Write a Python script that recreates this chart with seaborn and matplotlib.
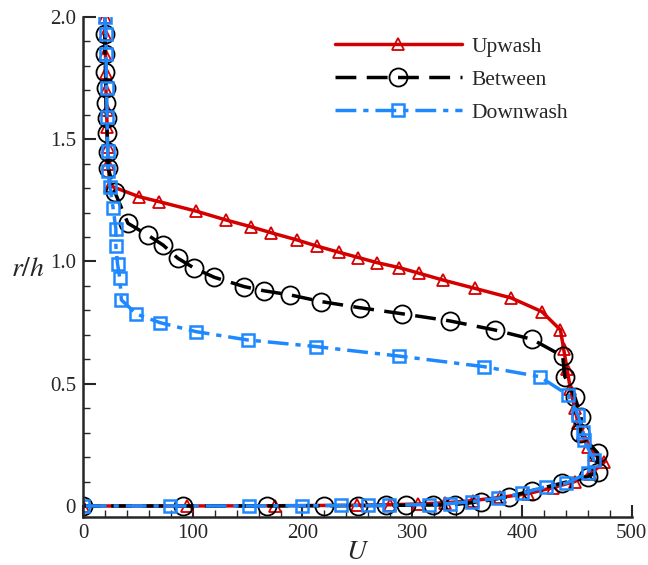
import numpy as np
import pandas as pd
import matplotlib.pyplot as plt
import seaborn as sns
from matplotlib.ticker import MultipleLocator

# data (U, r/h)
up_x = [20, 20, 20.5, 21, 21, 21.5, 22, 22.5, 23, 24.5, 51, 69, 103, 130, 153, 171, 195, 213, 233, 251,
        268, 288, 306, 328, 357, 390, 418, 435, 438, 441, 444, 448, 451, 455, 460, 466, 475, 462, 448, 428,
        405, 380, 355, 330, 305, 280, 250, 175, 95, 0]
up_y = [2.0, 1.93, 1.85, 1.77, 1.70, 1.62, 1.55, 1.47, 1.40, 1.31, 1.265, 1.245, 1.206, 1.170, 1.142, 1.118, 1.088, 1.063, 1.038, 1.016,
        0.995, 0.975, 0.952, 0.924, 0.890, 0.851, 0.795, 0.720, 0.64, 0.56, 0.48, 0.40, 0.34, 0.29, 0.24, 0.21, 0.18, 0.13, 0.10, 0.075,
        0.05, 0.035, 0.022, 0.013, 0.008, 0.005, 0.003, 0.001, 0, 0]

bt_x = [20, 20, 20.5, 21, 21, 21.5, 22, 22.5, 23, 29, 41, 59, 73, 86.5, 101.6, 119.8, 147, 165, 189, 217,
        252, 291, 334, 375, 409, 437, 439, 448, 454, 453, 469, 469, 460, 436, 409, 388, 363, 339, 319, 294,
        276, 251, 220, 168, 91, 0]
bt_y = [1.93, 1.85, 1.775, 1.71, 1.648, 1.587, 1.525, 1.448, 1.382, 1.284, 1.156, 1.108, 1.067, 1.013, 0.972, 0.935, 0.897, 0.880, 0.863, 0.836,
        0.811, 0.786, 0.757, 0.72, 0.682, 0.613, 0.529, 0.447, 0.365, 0.297, 0.216, 0.14, 0.12, 0.093, 0.063, 0.038, 0.018, 0.006, 0.004, 0.003,
        0.002, 0.001, 0.001, 0, 0, 0]

dn_x = [20, 21, 21, 21.5, 22, 22.5, 23, 24.5, 27.5, 30, 30, 31.5, 33.6, 35, 48.7, 70, 103, 150, 212, 288,
        365, 416, 442, 451, 455.5, 456.4, 465.5, 460, 440, 422, 400, 378, 354, 334.5, 315, 279, 260, 235, 200, 151.5,
        79, 0]
dn_y = [2.0, 1.93, 1.85, 1.71, 1.59, 1.45, 1.37, 1.306, 1.218, 1.132, 1.063, 0.99, 0.931, 0.843, 0.785, 0.75, 0.713, 0.679, 0.652, 0.613,
        0.57, 0.529, 0.454, 0.372, 0.304, 0.27, 0.188, 0.134, 0.093, 0.079, 0.052, 0.031, 0.018, 0.01, 0.006, 0.003, 0.002, 0.002, 0.001, 0,
        0, 0]

sns.set_style('ticks')
plt.rcParams['font.family'] = ['Liberation Serif', 'DejaVu Serif']
plt.rcParams['mathtext.fontset'] = 'stix'

fig = plt.figure(figsize=(6.48, 5.65), dpi=100)
ax = fig.add_axes([0.128, 0.085, 0.847, 0.885])

sns.lineplot(x=up_x, y=up_y, sort=False, estimator=None, ax=ax, color='#d40000', lw=2.5,
             marker='^', markersize=9, markerfacecolor='none', markeredgecolor='#d40000',
             markeredgewidth=1.3, label='Upwash')
sns.lineplot(x=bt_x, y=bt_y, sort=False, estimator=None, ax=ax, color='black', lw=2.5,
             linestyle=(0, (6, 3)), marker='o', markersize=13, markerfacecolor='none',
             markeredgecolor='black', markeredgewidth=1.3, label='Between')
sns.lineplot(x=dn_x, y=dn_y, sort=False, estimator=None, ax=ax, color='#1e88ff', lw=2.5,
             linestyle=(0, (6, 2, 1.5, 2)), marker='s', markersize=8.5, markerfacecolor='none',
             markeredgecolor='#1e88ff', markeredgewidth=1.8, label='Downwash')

ax.set_xlim(0, 500)
ax.set_ylim(-0.045, 2.0)
ax.xaxis.set_major_locator(MultipleLocator(100))
ax.xaxis.set_minor_locator(MultipleLocator(20))
ax.yaxis.set_major_locator(MultipleLocator(0.5))
ax.yaxis.set_minor_locator(MultipleLocator(0.1))
ax.set_yticks([0, 0.5, 1.0, 1.5, 2.0])
ax.set_yticklabels(['0', '0.5', '1.0', '1.5', '2.0'])
ax.tick_params(which='major', direction='in', length=9, width=1.5, labelsize=15, pad=5)
ax.tick_params(which='minor', direction='in', length=5, width=1)
sns.despine(ax=ax)
for s in ['left', 'bottom']:
    ax.spines[s].set_linewidth(1.8)

ax.set_xlabel('$U$', fontsize=20, labelpad=-2)
ax.set_ylabel('$r/h$', fontsize=20, rotation=0)
ax.yaxis.set_label_coords(-0.1, 0.47)

ax.legend(loc='upper right', bbox_to_anchor=(0.915, 0.995), frameon=False, fontsize=15.5,
          handlelength=5.9, labelspacing=0.6, handletextpad=0.45, borderpad=0.3)

fig.savefig('out.png', dpi=100)
